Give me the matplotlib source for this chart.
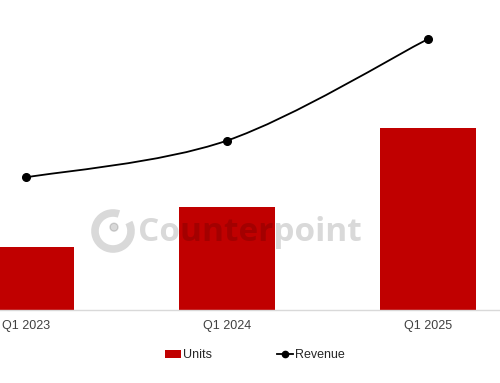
import matplotlib
matplotlib.use("Agg")
import matplotlib.pyplot as plt
from matplotlib.path import Path
from matplotlib.patches import PathPatch, Arc, Ellipse, Patch
from matplotlib.lines import Line2D
import numpy as np

plt.rcParams['font.family'] = ['Liberation Sans', 'DejaVu Sans']

categories = ["Q1 2023", "Q1 2024", "Q1 2025"]
units = [34.4, 56.3, 100.0]
revenue = [72.7, 92.9, 148.6]

bar_color = "#C00000"

fig = plt.figure(figsize=(5.0, 3.83), dpi=100)
ax = fig.add_axes([0.0, 0.1906, 1.0, 0.8094])
x = np.arange(len(categories))
ax.bar(x, units, width=0.478, color=bar_color, zorder=2, label="Units")
ax.set_xlim(-0.129, 2.358)
ax.set_ylim(0, 170)
ax.set_xticks(x)
ax.set_xticklabels(categories, fontsize=9, color="#404040")
ax.tick_params(axis='x', length=0, pad=7)
ax.set_yticks([])
for s in ["top", "right", "left"]:
    ax.spines[s].set_visible(False)
ax.spines["bottom"].set_color("#d9d9d9")
ax.spines["bottom"].set_linewidth(1.0)

ax2 = ax.twinx()
ax2.set_ylim(0, 170)
ax2.set_yticks([])
for s in ax2.spines.values():
    s.set_visible(False)

# Smoothed line (Excel-style Bezier through the data points)
pts = np.column_stack([x, revenue]).astype(float)
verts = [tuple(pts[0])]
codes = [Path.MOVETO]
n = len(pts)
for i in range(n - 1):
    p0 = pts[i - 1] if i > 0 else pts[i]
    p1 = pts[i]
    p2 = pts[i + 1]
    p3 = pts[i + 2] if i + 2 < n else pts[i + 1]
    c1 = p1 + (p2 - p0) / 6.0
    c2 = p2 - (p3 - p1) / 6.0
    verts += [tuple(c1), tuple(c2), tuple(p2)]
    codes += [Path.CURVE4] * 3
ax2.add_patch(PathPatch(Path(verts, codes), facecolor="none", edgecolor="black", lw=1.3, zorder=3))
ax2.plot(x, revenue, linestyle="none", marker="o", markersize=5.5, color="black", zorder=4)

# legend
handles = [Patch(facecolor=bar_color, edgecolor="none", label="Units"),
           Line2D([0], [0], color="black", lw=1.3, marker="o", markersize=4.5, label="Revenue")]
fig.legend(handles=handles, loc="center", bbox_to_anchor=(0.51, 0.073), ncol=2, frameon=False,
           fontsize=9, handlelength=1.3, handleheight=0.6, handletextpad=0.15, columnspacing=5.2,
           labelcolor="#262626")

# watermark
wm_color = (0, 0, 0, 0.15)
fig.text(0.276, 0.393, "Counterpoint", fontsize=24, fontweight="bold", family=["Open Sans", "DejaVu Sans"],
         color=wm_color, ha="left", va="center", zorder=10)
cx, cy = 113 / 500, 1 - 231 / 383
rw = 36 / 500
rh = 36 / 383
fig.add_artist(Arc((cx, cy), rw, rh, theta1=75, theta2=395, lw=5.5, color=wm_color,
                   transform=fig.transFigure, zorder=10))
fig.add_artist(Ellipse((cx + 0.002, cy + 0.010), 8 / 500, 8 / 383, color=wm_color,
                       transform=fig.transFigure, zorder=10))

fig.savefig("out.png", dpi=100)
